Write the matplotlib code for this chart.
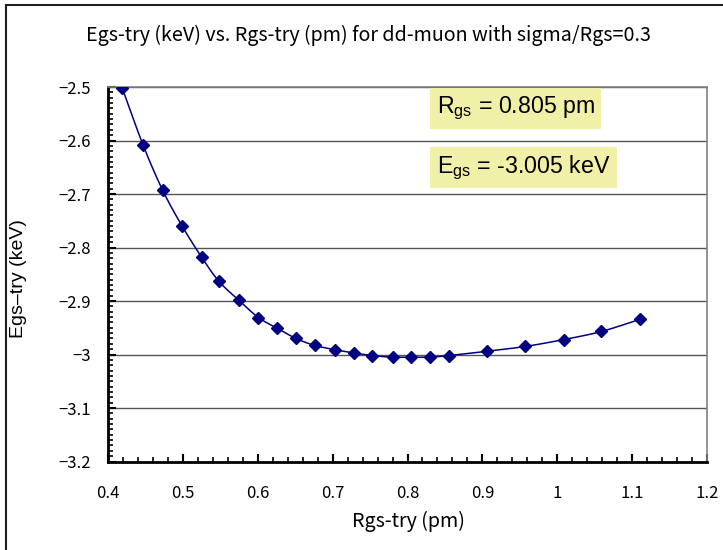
import numpy as np
import matplotlib
matplotlib.use("Agg")
import matplotlib.pyplot as plt
from matplotlib.ticker import MultipleLocator, FuncFormatter
from matplotlib.lines import Line2D

plt.rcParams['font.family'] = ['Noto Sans CJK JP', 'DejaVu Sans']
plt.rcParams['mathtext.fontset'] = 'custom'
plt.rcParams['mathtext.rm'] = 'Liberation Sans'

# ---- data ----
r_try = [0.419, 0.447, 0.473, 0.499, 0.525, 0.548, 0.575, 0.601, 0.626,
         0.651, 0.676, 0.703, 0.728, 0.753, 0.780, 0.805, 0.830, 0.855,
         0.906, 0.957, 1.009, 1.059, 1.111]
e_try = [-2.502, -2.609, -2.693, -2.760, -2.818, -2.863, -2.899, -2.931,
         -2.951, -2.970, -2.983, -2.991, -2.997, -3.002, -3.005, -3.005,
         -3.005, -3.002, -2.994, -2.985, -2.972, -2.957, -2.934]
title = "Egs-try (keV) vs. Rgs-try (pm) for dd-muon with sigma/Rgs=0.3"
xlabel = "Rgs-try (pm)"
ylabel = "Egs\u2013try (keV)"
note_r = r"R$_{\mathrm{gs}}$ = 0.805 pm"
note_e = r"E$_{\mathrm{gs}}$ = -3.005 keV"

navy = "#000080"

fig = plt.figure(figsize=(7.23, 5.5), dpi=100)
ax = fig.add_axes([108/723, 1-461.5/550, (707-108)/723, (461.5-87)/550])

# smooth line (Catmull-Rom through the data points, like Excel smoothing)
x = np.asarray(r_try)
y = np.asarray(e_try)
P = np.column_stack([x/0.8, y/0.7])
Pp = np.vstack([P[0] - (P[1]-P[0]), P, P[-1] + (P[-1]-P[-2])])
seg = []
t = np.linspace(0, 1, 20)[:, None]
for i in range(1, len(Pp)-2):
    p0, p1, p2, p3 = Pp[i-1], Pp[i], Pp[i+1], Pp[i+2]
    c = 0.5*((2*p1) + (-p0+p2)*t + (2*p0-5*p1+4*p2-p3)*t**2 + (-p0+3*p1-3*p2+p3)*t**3)
    seg.append(c)
S = np.vstack(seg)
ax.plot(S[:, 0]*0.8, S[:, 1]*0.7, color=navy, lw=1.1, zorder=3)
ax.plot(r_try, e_try, linestyle='none', marker='D', ms=6, color=navy, zorder=4)

ax.set_xlim(0.4, 1.2)
ax.set_ylim(-3.2, -2.5)
ax.xaxis.set_major_locator(MultipleLocator(0.1))
ax.xaxis.set_minor_locator(MultipleLocator(0.02))
ax.yaxis.set_major_locator(MultipleLocator(0.1))
ax.yaxis.set_minor_locator(MultipleLocator(0.01))

def fmt(v, pos):
    s = ("%.1f" % v)
    if s.endswith(".0"):
        s = s[:-2]
    return s.replace("-", "\u2212")
ax.xaxis.set_major_formatter(FuncFormatter(fmt))
ax.yaxis.set_major_formatter(FuncFormatter(fmt))

ax.tick_params(axis='both', which='major', direction='in', length=6, width=1.5,
               labelsize=12, color='black')
ax.tick_params(axis='both', which='minor', direction='in', length=3.5, width=1.2,
               color='black')
ax.tick_params(axis='x', which='major', pad=17)
ax.tick_params(axis='y', which='major', pad=12)

ax.yaxis.grid(True, which='major', color='#555555', lw=1.0)
ax.set_axisbelow(True)
for s in ['top', 'right']:
    ax.spines[s].set_color('#808080')
    ax.spines[s].set_linewidth(1.2)
for s in ['left', 'bottom']:
    ax.spines[s].set_color('black')
    ax.spines[s].set_linewidth(2.0)

fig.text(368/723, 1-35/550, title, ha='center', va='center', fontsize=14.2)
fig.text(408/723, 1-521/550, xlabel, ha='center', va='center', fontsize=14.2)
fig.text(19/723, 1-279/550, ylabel, ha='center', va='center', rotation=90,
         fontsize=14, family=['Liberation Sans', 'DejaVu Sans'])

box = dict(boxstyle='square,pad=0.28', fc='#f0f0a8', ec='none')
fig.text(515.5/723, 1-108.5/550, note_r, ha='center', va='center', fontsize=16.7,
         family=['Liberation Sans', 'DejaVu Sans'], bbox=box)
fig.text(523.5/723, 1-167.5/550, note_e, ha='center', va='center', fontsize=16.7,
         family=['Liberation Sans', 'DejaVu Sans'], bbox=box)

# outer chart frame (partially cropped)
fig.add_artist(Line2D([6/723, 6/723], [0, 1-5/550], transform=fig.transFigure,
                      color='#202020', lw=1.5))
fig.add_artist(Line2D([6/723, 1], [1-5/550, 1-5/550], transform=fig.transFigure,
                      color='#202020', lw=1.5))

fig.savefig("out.png", dpi=100)
